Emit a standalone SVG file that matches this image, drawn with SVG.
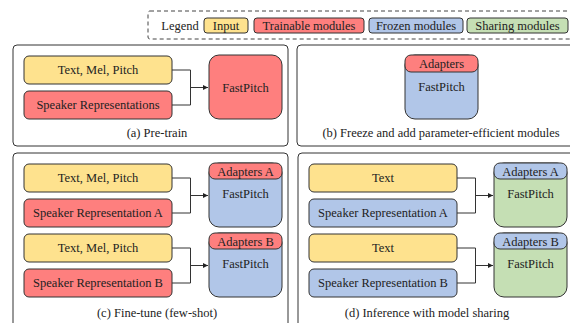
<svg xmlns="http://www.w3.org/2000/svg" width="570" height="323" viewBox="0 0 570 323">
<defs>
<marker id="arr" markerWidth="6" markerHeight="6" refX="5" refY="3" orient="auto" markerUnits="userSpaceOnUse">
<path d="M0,0.5 L5,3 L0,5.5 z" fill="#222"/>
</marker>
<style>
text{font-family:"Liberation Serif","Times New Roman",serif;font-size:12.5px;fill:#222;text-anchor:middle}
.panel{fill:#fff;stroke:#333;stroke-width:1}
.box{stroke:#333;stroke-width:1}
.y{fill:#FEE28E}
.r{fill:#FE7F7E}
.b{fill:#B1C6E8}
.g{fill:#C5DFB4}
.conn{fill:none;stroke:#333;stroke-width:1}
</style>
</defs>
<rect width="570" height="323" fill="#fff"/>

<g id="legend">
<rect x="148" y="11" width="430" height="28" rx="2" fill="none" stroke="#444" stroke-width="1" stroke-dasharray="4,3"/>
<text x="180" y="30">Legend</text>
<rect class="box y" x="204" y="18" width="44" height="15" rx="3"/>
<text x="226" y="30">Input</text>
<rect class="box r" x="254" y="18" width="110" height="15" rx="3"/>
<text x="309" y="30">Trainable modules</text>
<rect class="box b" x="369" y="18" width="94" height="15" rx="3"/>
<text x="416" y="30">Frozen modules</text>
<rect class="box g" x="467" y="18" width="101" height="15" rx="3"/>
<text x="517.5" y="30">Sharing modules</text>
</g>

<g id="panel-a">
<rect class="panel" x="13" y="45" width="275" height="101" rx="4"/>
<text x="157" y="137">(a) Pre-train</text>
</g>
<g id="a-text">
<rect class="box y" x="24" y="56" width="148" height="28" rx="5"/>
<text x="98" y="74">Text, Mel, Pitch</text>
</g>
<g id="a-speaker">
<rect class="box r" x="24" y="91" width="148" height="28" rx="5"/>
<text x="98" y="109">Speaker Representations</text>
</g>
<g id="a-fastpitch">
<rect class="box r" x="209" y="55" width="73" height="64" rx="10"/>
<text x="245.5" y="92">FastPitch</text>
</g>

<g id="panel-b">
<rect class="panel" x="297" y="45" width="290" height="101" rx="4"/>
<text x="441" y="137">(b) Freeze and add parameter-efficient modules</text>
</g>
<g id="b-fastpitch">
<rect class="box b" x="405" y="55" width="73" height="64" rx="10"/>
<rect class="box r" x="405" y="55" width="73" height="17" rx="6"/>
<text x="441.5" y="68">Adapters</text>
<text x="441.5" y="91">FastPitch</text>
</g>

<g id="panel-c">
<rect class="panel" x="13" y="153" width="275" height="180" rx="4"/>
<text x="157" y="317">(c) Fine-tune (few-shot)</text>
</g>
<g id="c-text-a">
<rect class="box y" x="24" y="164" width="148" height="28" rx="5"/>
<text x="98" y="182">Text, Mel, Pitch</text>
</g>
<g id="c-speaker-a">
<rect class="box r" x="24" y="199" width="148" height="28" rx="5"/>
<text x="98" y="217">Speaker Representation A</text>
</g>
<g id="c-fastpitch-a">
<rect class="box b" x="209" y="163" width="73" height="64" rx="10"/>
<rect class="box r" x="209" y="163" width="73" height="16" rx="6"/>
<text x="245.5" y="175.5">Adapters A</text>
<text x="245.5" y="198">FastPitch</text>
</g>
<g id="c-text-b">
<rect class="box y" x="24" y="234" width="148" height="28" rx="5"/>
<text x="98" y="252">Text, Mel, Pitch</text>
</g>
<g id="c-speaker-b">
<rect class="box r" x="24" y="269" width="148" height="28" rx="5"/>
<text x="98" y="287">Speaker Representation B</text>
</g>
<g id="c-fastpitch-b">
<rect class="box b" x="209" y="233" width="73" height="64" rx="10"/>
<rect class="box r" x="209" y="233" width="73" height="16" rx="6"/>
<text x="245.5" y="245.5">Adapters B</text>
<text x="245.5" y="268">FastPitch</text>
</g>

<g id="panel-d">
<rect class="panel" x="298" y="153" width="290" height="180" rx="4"/>
<text x="427" y="317">(d) Inference with model sharing</text>
</g>
<g id="d-text-a">
<rect class="box y" x="309" y="164" width="148" height="28" rx="5"/>
<text x="383" y="182">Text</text>
</g>
<g id="d-speaker-a">
<rect class="box b" x="309" y="199" width="148" height="28" rx="5"/>
<text x="383" y="217">Speaker Representation A</text>
</g>
<g id="d-fastpitch-a">
<rect class="box g" x="494" y="163" width="73" height="64" rx="10"/>
<rect class="box b" x="494" y="163" width="73" height="16" rx="6"/>
<text x="530.5" y="175.5">Adapters A</text>
<text x="530.5" y="198">FastPitch</text>
</g>
<g id="d-text-b">
<rect class="box y" x="309" y="234" width="148" height="28" rx="5"/>
<text x="383" y="252">Text</text>
</g>
<g id="d-speaker-b">
<rect class="box b" x="309" y="269" width="148" height="28" rx="5"/>
<text x="383" y="287">Speaker Representation B</text>
</g>
<g id="d-fastpitch-b">
<rect class="box g" x="494" y="233" width="73" height="64" rx="10"/>
<rect class="box b" x="494" y="233" width="73" height="16" rx="6"/>
<text x="530.5" y="245.5">Adapters B</text>
<text x="530.5" y="268">FastPitch</text>
</g>

<g id="connectors">
<path class="conn" d="M172,70 H190.5 V105 H172"/>
<path class="conn" d="M190.5,87.5 H208" marker-end="url(#arr)"/>
<path class="conn" d="M172,178 H190.5 V213 H172"/>
<path class="conn" d="M190.5,195.5 H208" marker-end="url(#arr)"/>
<path class="conn" d="M172,248 H190.5 V283 H172"/>
<path class="conn" d="M190.5,265.5 H208" marker-end="url(#arr)"/>
<path class="conn" d="M457,178 H475.5 V213 H457"/>
<path class="conn" d="M475.5,195.5 H493" marker-end="url(#arr)"/>
<path class="conn" d="M457,248 H475.5 V283 H457"/>
<path class="conn" d="M475.5,265.5 H493" marker-end="url(#arr)"/>
</g>
</svg>
